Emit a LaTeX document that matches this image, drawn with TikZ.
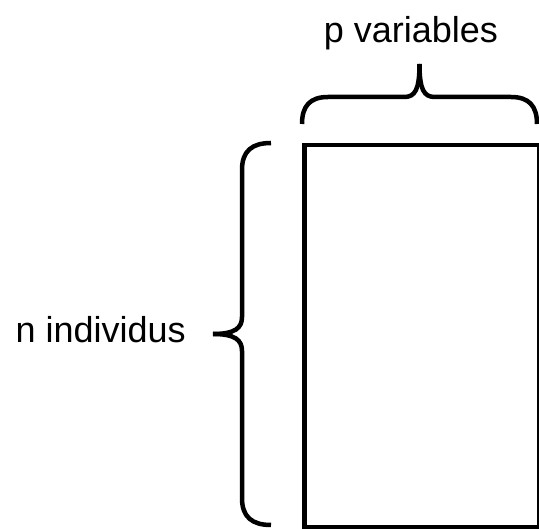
\documentclass[tikz,border=0pt]{standalone}
\usepackage{fontspec}
\setmainfont{Liberation Sans}

\begin{document}
\begin{tikzpicture}[
		x=1pt,y=-1pt,
		line width=4.5pt,
		etiquette/.style={font=\fontsize{36}{40}\selectfont,inner sep=0pt},
		accolade/.style={line width=4.5pt}
		]
		\useasboundingbox (0,0) rectangle (539,529);
		% tableau
		\node[draw,minimum width=235pt,minimum height=382pt,anchor=north west,inner sep=0pt] (tab) at (302,143) {};
		% accolade du haut
		\coordinate (hg) at (302,124);
		\coordinate (hd) at (537,124);
		\coordinate (hp) at (419.5,64);
		\draw[accolade] (hg) .. controls (302,106) and (310,97) .. (328,97) -- (404,97)
			.. controls (415,97) and (419.5,90) .. (hp);
		\draw[accolade] (hd) .. controls (537,106) and (529,97) .. (511,97) -- (435,97)
			.. controls (424,97) and (419.5,90) .. (hp);
		% accolade de gauche
		\coordinate (gh) at (271,143);
		\coordinate (gb) at (271,525);
		\coordinate (gp) at (213,334);
		\draw[accolade] (gh) .. controls (252,143) and (242,151) .. (242,170) -- (242,317)
			.. controls (242,328) and (235,334) .. (gp);
		\draw[accolade] (gb) .. controls (252,525) and (242,517) .. (242,498) -- (242,351)
			.. controls (242,340) and (235,334) .. (gp);
		% textes
		\node[etiquette,anchor=base] (p) at (411,43) {p variables};
		\node[etiquette,anchor=base east] (n) at (188,343) {n individus};
		\end{tikzpicture}
\end{document}
